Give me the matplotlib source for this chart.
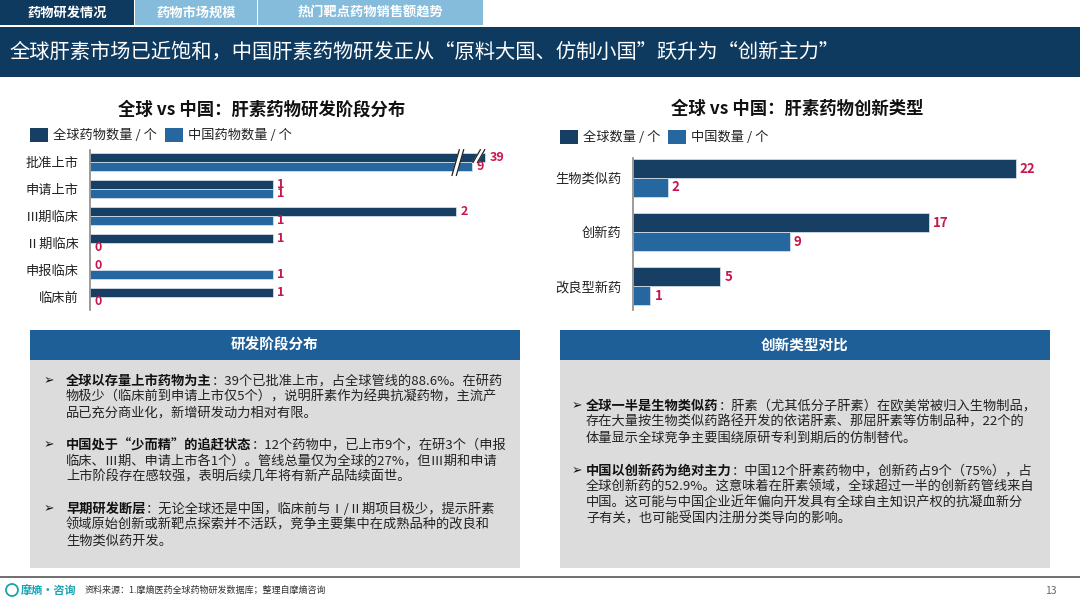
import numpy as np
import matplotlib
matplotlib.use("Agg")
import matplotlib.pyplot as plt
from matplotlib.patches import Rectangle, Circle

plt.rcParams['font.family'] = ['Noto Sans CJK SC', 'DejaVu Sans']

W, H = 1080, 608

# ---- data ----
tabs = ['药物研发情况', '药物市场规模', '热门靶点药物销售额趋势']
headline = '全球肝素市场已近饱和，中国肝素药物研发正从“原料大国、仿制小国”跃升为“创新主力”'

stage_title = '全球 vs 中国：肝素药物研发阶段分布'
stages = ['批准上市', '申请上市', 'Ⅲ期临床', 'Ⅱ期临床', '申报临床', '临床前']
stage_global = [39, 1, 2, 1, 0, 1]
stage_china = [9, 1, 1, 0, 1, 0]
stage_series = ['全球药物数量 / 个', '中国药物数量 / 个']

type_title = '全球 vs 中国：肝素药物创新类型'
types = ['生物类似药', '创新药', '改良型新药']
type_global = [22, 17, 5]
type_china = [2, 9, 1]
type_series = ['全球数量 / 个', '中国数量 / 个']

left_head = '研发阶段分布'
left_paras = [
    ('全球以存量上市药物为主', ['：39个已批准上市，占全球管线的88.6%。在研药',
                     '物极少（临床前到申请上市仅5个），说明肝素作为经典抗凝药物，主流产',
                     '品已充分商业化，新增研发动力相对有限。']),
    ('中国处于“少而精”的追赶状态', ['：12个药物中，已上市9个，在研3个（申报',
                        '临床、Ⅲ期、申请上市各1个）。管线总量仅为全球的27%，但Ⅲ期和申请',
                        '上市阶段存在感较强，表明后续几年将有新产品陆续面世。']),
    ('早期研发断层', ['：无论全球还是中国，临床前与Ⅰ/Ⅱ期项目极少，提示肝素',
                '领域原始创新或新靶点探索并不活跃，竞争主要集中在成熟品种的改良和',
                '生物类似药开发。']),
]
right_head = '创新类型对比'
right_paras = [
    ('全球一半是生物类似药', ['：肝素（尤其低分子肝素）在欧美常被归入生物制品，',
                    '存在大量按生物类似药路径开发的依诺肝素、那屈肝素等仿制品种，22个的',
                    '体量显示全球竞争主要围绕原研专利到期后的仿制替代。']),
    ('中国以创新药为绝对主力', ['：中国12个肝素药物中，创新药占9个（75%），占',
                     '全球创新药的52.9%。这意味着在肝素领域，全球超过一半的创新药管线来自',
                     '中国。这可能与中国企业近年偏向开发具有全球自主知识产权的抗凝血新分',
                     '子有关，也可能受国内注册分类导向的影响。']),
]
source = '资料来源：1.摩熵医药全球药物研发数据库；整理自摩熵咨询'
page_no = '13'

# ---- colours ----
NAVY = '#0f3a60'
DARK_BAR = '#173f64'
LIGHT_BAR = '#2767a0'
TAB_LIGHT = '#85bcdc'
RED = '#c8174c'
BOX_HEAD = '#1f5f98'
BOX_BG = '#dcdcdc'

fig = plt.figure(figsize=(W / 100, H / 100), dpi=100)
bg = fig.add_axes([0, 0, 1, 1])
bg.set_xlim(0, W)
bg.set_ylim(H, 0)
bg.axis('off')
renderer = fig.canvas.get_renderer()


def rect(x0, y0, x1, y1, color):
    bg.add_patch(Rectangle((x0, y0), x1 - x0, y1 - y0, facecolor=color, edgecolor='none'))


# tabs + headline bar
tab_pos = [(0, 134), (135, 257), (258, 483)]
for i, (name, (x0, x1)) in enumerate(zip(tabs, tab_pos)):
    rect(x0, 0, x1, 25, NAVY if i == 0 else TAB_LIGHT)
    bg.text((x0 + x1) / 2, 12.5, name, color='white', fontsize=9.5, fontweight='bold',
            ha='center', va='center')
rect(0, 27, W, 77, NAVY)
bg.text(10, 52, headline, color='white', fontsize=14.6, va='center')


def legend(x, y, labels, colors, gap):
    for lab, col, dx in zip(labels, colors, [0, gap]):
        rect(x + dx, y - 7, x + dx + 18, y + 7, col)
        bg.text(x + dx + 23, y, lab, fontsize=9.5, va='center', color='#222')


def px_axes(x0, y0, x1, y1):
    return fig.add_axes([x0 / W, 1 - y1 / H, (x1 - x0) / W, (y1 - y0) / H])


def bar_chart(ax, cats, g, c, bar_h, xmax, ylim, caps=None, labsize=9.5, valsize=9.5):
    y = np.arange(len(cats))
    g = np.array(g, float)
    c = np.array(c, float)
    gs, cs = g, c
    if caps is not None:
        gs = np.minimum(g, caps[0])
        cs = np.minimum(c, caps[1])
    ax.barh(y - bar_h / 2, gs, height=bar_h, color=DARK_BAR, edgecolor='#dfeaf3', linewidth=0.5)
    ax.barh(y + bar_h / 2, cs, height=bar_h, color=LIGHT_BAR, edgecolor='#dfeaf3', linewidth=0.5)
    for yy, shown, val in zip(np.r_[y - bar_h / 2, y + bar_h / 2], np.r_[gs, cs], np.r_[g, c]):
        ax.annotate(f'{val:g}', (shown, yy), xytext=(3, 0), textcoords='offset points',
                    va='center', ha='left', color=RED, fontsize=valsize, fontweight='bold')
    ax.set_xlim(0, xmax)
    ax.set_ylim(*ylim)
    ax.set_yticks(y)
    ax.set_yticklabels(cats, fontsize=labsize, color='#222')
    ax.tick_params(axis='y', length=0, pad=8)
    ax.set_xticks([])
    for s in ['top', 'right', 'bottom']:
        ax.spines[s].set_visible(False)
    ax.spines['left'].set_color('#8a8a8a')
    ax.spines['left'].set_linewidth(1.2)
    ax.patch.set_alpha(0)


# left chart
bg.text(262, 110, stage_title, fontsize=12.5, fontweight='bold', ha='center', va='center', color='#111')
legend(30, 135, stage_series, [DARK_BAR, LIGHT_BAR], 135)
axl = px_axes(90, 150, 530, 310)
bar_chart(axl, stages, stage_global, stage_china, 0.333, 440 / 183, (5.48, -0.44),
          caps=(2.16, 2.09), labsize=9.5, valsize=9)
# axis break marks on the longest bars
for x0, ytop in ((1.99, 0.5), (2.105, 0.02)):
    axl.plot([x0, x0 + 0.04], [ytop, -0.45], color='white', lw=3.5, clip_on=False, zorder=5)
    axl.plot([x0 - 0.012, x0 + 0.028], [ytop, -0.45], color='#222', lw=0.9, clip_on=False, zorder=6)
    axl.plot([x0 + 0.012, x0 + 0.052], [ytop, -0.45], color='#222', lw=0.9, clip_on=False, zorder=6)

# right chart
bg.text(797, 109, type_title, fontsize=12.5, fontweight='bold', ha='center', va='center', color='#111')
legend(560, 137, type_series, [DARK_BAR, LIGHT_BAR], 108)
axr = px_axes(633, 158, 1060, 310)
bar_chart(axr, types, type_global, type_china, 0.35, 427 / 17.4, (2.44, -0.37), labsize=9.5)


# text boxes
def rich_line(x, y, bold, rest, size=9.5):
    if bold:
        t = bg.text(x, y, bold, fontsize=size, fontweight='bold', va='center', color='#111')
        x = t.get_window_extent(renderer).x1
    bg.text(x, y, rest, fontsize=size, va='center', color='#222')


def text_box(x0, x1, head, paras, bullet_x, text_x, first_y, para_gap, line_h=16):
    rect(x0, 330, x1, 360, BOX_HEAD)
    rect(x0, 360, x1, 568, BOX_BG)
    bg.text((x0 + x1) / 2, 345, head, color='white', fontsize=10.5, fontweight='bold',
            ha='center', va='center')
    y = first_y
    for bold, lines in paras:
        bg.text(bullet_x, y, '➢', family='DejaVu Sans', fontsize=9, va='center', color='#111')
        for j, ln in enumerate(lines):
            rich_line(text_x, y, bold if j == 0 else '', ln)
            y += line_h
        y += para_gap - line_h


text_box(30, 520, left_head, left_paras, 44, 66, 381, 32)
text_box(560, 1050, right_head, right_paras, 572, 586, 406, 33)

# footer
bg.plot([0, W], [577, 577], color='#555555', lw=1.2)
bg.add_patch(Circle((12, 590), 6, facecolor='none', edgecolor='#1aa3b0', lw=1.3))
bg.text(21, 590, '摩熵·咨询', fontsize=8, fontweight='bold', color='#1aa3b0', va='center')
bg.text(85, 590, source, fontsize=6.5, color='#333', va='center')
bg.text(1057, 591, page_no, fontsize=7.5, color='#666', va='center', ha='right')

fig.savefig('out.png', dpi=100)
